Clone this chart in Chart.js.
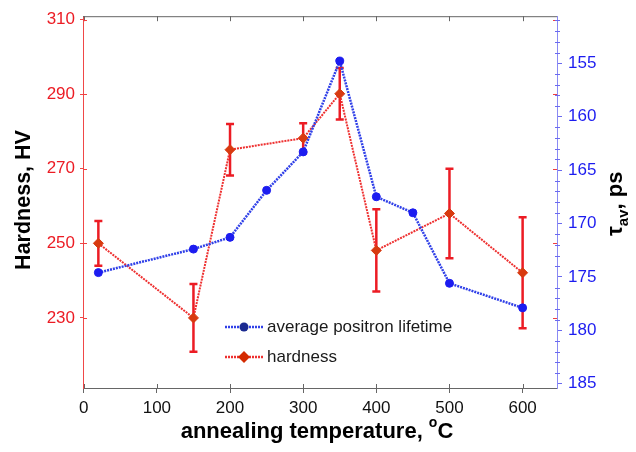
<!DOCTYPE html>
<html>
<head>
<meta charset="utf-8">
<script src="https://cdn.jsdelivr.net/npm/chart.js@4.4.0/dist/chart.umd.min.js"></script>
<style>
html, body { margin: 0; padding: 0; background: #fff; }
#wrap { width: 636px; height: 452px; }
</style>
</head>
<body>
<div id="wrap"><canvas id="chart" width="636" height="452"></canvas></div>
<script>
// values
const lifetimeTemps = [20, 150, 200, 250, 300, 350, 400, 450, 500, 600];
const lifetimeValues = [174.6, 172.4, 171.3, 166.9, 163.3, 154.8, 167.5, 169.0, 175.6, 177.9];
const hardnessTemps = [20, 150, 200, 300, 350, 400, 500, 600];
const hardnessValues = [250, 230, 275.1, 278.2, 290.1, 248.1, 258, 242.1];
const hardnessErrors = [6, 9.1, 6.9, 4, 6.9, 11, 12, 14.9];
const tempTicks = [0, 100, 200, 300, 400, 500, 600];
const hardnessTicks = [230, 250, 270, 290, 310];
const lifetimeTicks = [155, 160, 165, 170, 175, 180, 185];

const FONT = "'Liberation Sans', Arial, sans-serif";
const RED = "#ec1c24";
const BLUE = "#1c1cf0";

function toPoints(xs, ys) {
    return xs.map((x, i) => ({ x: x, y: ys[i] }));
}

// error bars for hardness
const errorBars = {
    id: "errorBars",
    beforeDatasetsDraw(chart) {
        const ctx = chart.ctx, xs = chart.scales.x, ys = chart.scales.y;
        ctx.save();
        ctx.strokeStyle = RED;
        ctx.lineWidth = 2.5;
        hardnessTemps.forEach((t, i) => {
            const px = xs.getPixelForValue(t);
            const top = ys.getPixelForValue(hardnessValues[i] + hardnessErrors[i]);
            const bot = ys.getPixelForValue(hardnessValues[i] - hardnessErrors[i]);
            ctx.beginPath();
            ctx.moveTo(px, top); ctx.lineTo(px, bot);
            ctx.moveTo(px - 4, top); ctx.lineTo(px + 4, top);
            ctx.moveTo(px - 4, bot); ctx.lineTo(px + 4, bot);
            ctx.stroke();
        });
        ctx.restore();
    }
};

// top border, inward ticks, mirrored ticks, minor ticks
const frame = {
    id: "frame",
    beforeDatasetsDraw(chart) {
        const ctx = chart.ctx, a = chart.chartArea;
        const xs = chart.scales.x, yl = chart.scales.y, yr = chart.scales.y1;
        ctx.save();
        ctx.lineWidth = 1;
        ctx.strokeStyle = "#666";
        ctx.beginPath();
        ctx.moveTo(a.left, a.top + 0.5); ctx.lineTo(a.right, a.top + 0.5);
        tempTicks.forEach(t => {
            const px = Math.round(xs.getPixelForValue(t)) + 0.5;
            ctx.moveTo(px, a.top); ctx.lineTo(px, a.top + 5);
            ctx.moveTo(px, a.bottom); ctx.lineTo(px, a.bottom - 4);
        });
        ctx.stroke();
        ctx.strokeStyle = "#f04040";
        ctx.beginPath();
        hardnessTicks.forEach(v => {
            const py = Math.round(yl.getPixelForValue(v)) + 0.5;
            ctx.moveTo(a.right - 4, py); ctx.lineTo(a.right, py);
            ctx.moveTo(a.left, py); ctx.lineTo(a.left + 4, py);
        });
        ctx.stroke();
        ctx.strokeStyle = "#6a6af0";
        ctx.beginPath();
        for (let v = 151; v <= 185; v++) {
            if (v % 5 === 0) continue;
            const py = Math.round(yr.getPixelForValue(v)) + 0.5;
            ctx.moveTo(a.right - 2, py); ctx.lineTo(a.right + 3, py);
        }
        ctx.stroke();
        ctx.restore();
    }
};

// legend and axis titles
const labels = {
    id: "labels",
    afterDraw(chart) {
        const ctx = chart.ctx;
        ctx.save();
        // legend
        const rows = [
            { text: "average positron lifetime", y: 327, line: "#3040e8", mark: "#1a2a90", style: "circle" },
            { text: "hardness", y: 357, line: "#ee3030", mark: "#d42a00", style: "diamond" }
        ];
        rows.forEach(r => {
            ctx.strokeStyle = r.line;
            ctx.lineWidth = 2.5;
            ctx.setLineDash([2, 1]);
            ctx.beginPath();
            ctx.moveTo(225, r.y); ctx.lineTo(263, r.y);
            ctx.stroke();
            ctx.setLineDash([]);
            ctx.fillStyle = r.mark;
            ctx.beginPath();
            if (r.style === "circle") {
                ctx.arc(244, r.y, 4.5, 0, Math.PI * 2);
            } else {
                ctx.moveTo(244, r.y - 6); ctx.lineTo(250, r.y);
                ctx.lineTo(244, r.y + 6); ctx.lineTo(238, r.y);
                ctx.closePath();
            }
            ctx.fill();
            ctx.fillStyle = "#1a1a1a";
            ctx.font = "17px " + FONT;
            ctx.textBaseline = "middle";
            ctx.textAlign = "left";
            ctx.fillText(r.text, 267, r.y);
        });

        ctx.fillStyle = "#000";
        ctx.textBaseline = "alphabetic";
        // left title
        ctx.save();
        ctx.translate(30, 200);
        ctx.rotate(-Math.PI / 2);
        ctx.font = "bold 21.5px " + FONT;
        ctx.textAlign = "center";
        ctx.fillText("Hardness, HV", 0, 0);
        ctx.restore();

        // right title: tau with subscript "av", then ", ps"
        ctx.save();
        ctx.translate(622, 236);
        ctx.rotate(-Math.PI / 2);
        ctx.textAlign = "left";
        ctx.font = "bold 22px " + FONT;
        ctx.fillText("τ", 0, 0);
        let w = ctx.measureText("τ").width;
        ctx.font = "bold 15px " + FONT;
        ctx.fillText("av", w, 6);
        w += ctx.measureText("av").width;
        ctx.font = "bold 22px " + FONT;
        ctx.fillText(", ps", w, 0);
        ctx.restore();

        // bottom title with degree superscript
        ctx.font = "bold 22px " + FONT;
        const main = "annealing temperature, ";
        const mw = ctx.measureText(main).width;
        ctx.font = "bold 14px " + FONT;
        const ow = ctx.measureText("o").width;
        ctx.font = "bold 22px " + FONT;
        const cw = ctx.measureText("C").width;
        let x = 317 - (mw + ow + cw) / 2;
        ctx.textAlign = "left";
        ctx.fillText(main, x, 438);
        x += mw;
        ctx.font = "bold 14px " + FONT;
        ctx.fillText("o", x, 427);
        x += ow;
        ctx.font = "bold 22px " + FONT;
        ctx.fillText("C", x, 438);
        ctx.restore();
    }
};

new Chart(document.getElementById("chart"), {
    type: "line",
    data: {
        datasets: [
            {
                label: "average positron lifetime",
                data: toPoints(lifetimeTemps, lifetimeValues),
                yAxisID: "y1",
                borderColor: "#3040e8",
                borderWidth: 2.5,
                borderDash: [2, 1],
                pointStyle: "circle",
                pointRadius: 4,
                pointBorderWidth: 1,
                pointBackgroundColor: BLUE,
                pointBorderColor: BLUE,
                tension: 0,
                fill: false
            },
            {
                label: "hardness",
                data: toPoints(hardnessTemps, hardnessValues),
                yAxisID: "y",
                borderColor: "#ee3030",
                borderWidth: 2,
                borderDash: [2, 1],
                pointStyle: "rectRot",
                pointRadius: 5,
                pointBorderWidth: 1,
                pointBackgroundColor: "#d83a10",
                pointBorderColor: "#d83a10",
                tension: 0,
                fill: false
            }
        ]
    },
    options: {
        responsive: false,
        animation: false,
        devicePixelRatio: 1,
        layout: { padding: { top: 15, left: 0, right: 0, bottom: 0 } },
        plugins: { legend: { display: false }, tooltip: { enabled: false } },
        scales: {
            x: {
                type: "linear",
                position: "bottom",
                min: -1,
                max: 647,
                afterBuildTicks: s => { s.ticks = tempTicks.map(v => ({ value: v })); },
                afterFit: s => { s.height = 64; },
                border: { color: "#666", width: 1 },
                grid: { drawOnChartArea: false, tickLength: 5, color: "#666" },
                ticks: { color: "#111", font: { family: FONT, size: 17 }, padding: 5, maxRotation: 0 }
            },
            y: {
                type: "linear",
                position: "left",
                min: 211.2,
                max: 310.9,
                afterBuildTicks: s => { s.ticks = hardnessTicks.map(v => ({ value: v })); },
                afterFit: s => { s.width = 83; },
                border: { color: "#f04848", width: 1 },
                grid: { drawOnChartArea: false, tickLength: 3, color: "#f04848" },
                ticks: { color: RED, font: { family: FONT, size: 17 }, padding: 5 }
            },
            y1: {
                type: "linear",
                position: "right",
                reverse: true,
                min: 150.6,
                max: 185.4,
                afterBuildTicks: s => { s.ticks = lifetimeTicks.map(v => ({ value: v })); },
                afterFit: s => { s.width = 79; },
                border: { color: "#8a8af4", width: 1 },
                grid: { drawOnChartArea: false, tickLength: 5, color: "#6a6af0" },
                ticks: { color: BLUE, font: { family: FONT, size: 17 }, padding: 6 }
            }
        }
    },
    plugins: [errorBars, frame, labels]
});
</script>
</body>
</html>
